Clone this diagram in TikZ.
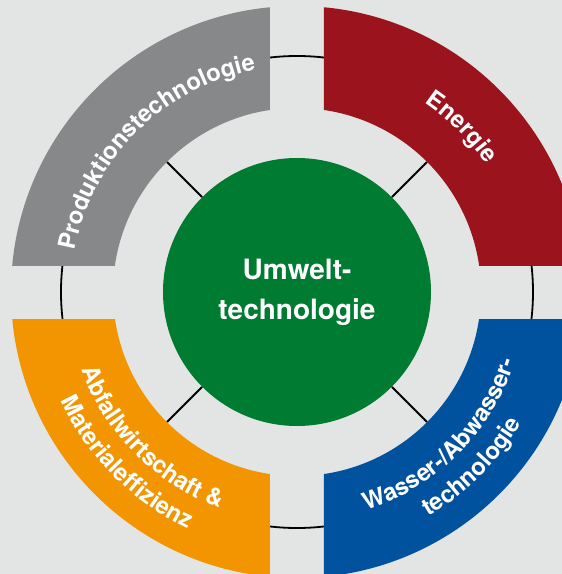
\documentclass[tikz,border=0pt]{standalone}
\usepackage{fontspec}
\setmainfont{TeX Gyre Heros}
\usetikzlibrary{decorations.text}
\definecolor{bgcol}{HTML}{E3E5E4}
\definecolor{segGray}{HTML}{87888A}
\definecolor{segRed}{HTML}{9B141D}
\definecolor{segOrange}{HTML}{F29500}
\definecolor{segBlue}{HTML}{00519E}
\definecolor{coreGreen}{HTML}{007B32}
\newcommand\mysegfont{\bfseries\fontsize{23.8}{28}\selectfont\color{white}}
\begin{document}
\begin{tikzpicture}[x=1pt,y=1pt,
  ringline/.style={line width=1.8pt, draw=black},
  segfill/.style={fill=#1, even odd rule},
  core/.style={circle, fill=coreGreen, minimum size=268pt, inner sep=0pt, text=white,
    align=center, font=\bfseries\fontsize{28}{40}\selectfont},
  arclabel/.style={decorate, decoration={text along path, text align=center, text={#1}}}]
\useasboundingbox (-297,-282) rectangle (265,292);
\fill[bgcol] (-297,-282) rectangle (265,292);
% ring
\draw[ringline] (0,0) circle[radius=236pt];
% centre
\node[core] (centre) at (0,0) {Umwelt-\\technologie};
% connector ends
\coordinate (ne) at (45:184pt);
\coordinate (nw) at (135:184pt);
\coordinate (sw) at (225:184pt);
\coordinate (se) at (315:184pt);
\draw[ringline] (centre.45) -- (ne);
\draw[ringline] (centre.135) -- (nw);
\draw[ringline] (centre.225) -- (sw);
\draw[ringline] (centre.315) -- (se);
% segments
\begin{scope}
\clip (-320,27) rectangle (-27,320);
\fill[segfill=segGray] (0,0) circle[radius=286pt] (0,0) circle[radius=184pt];
\end{scope}
\begin{scope}
\clip (27,27) rectangle (320,320);
\fill[segfill=segRed] (0,0) circle[radius=286pt] (0,0) circle[radius=184pt];
\end{scope}
\begin{scope}
\clip (-320,-27) rectangle (-27,-320);
\fill[segfill=segOrange] (0,0) circle[radius=286pt] (0,0) circle[radius=184pt];
\end{scope}
\begin{scope}
\clip (27,-27) rectangle (320,-320);
\fill[segfill=segBlue] (0,0) circle[radius=286pt] (0,0) circle[radius=184pt];
\end{scope}
% labels
\path[arclabel={|\mysegfont|Produktionstechnologie}] (180:226pt) arc[start angle=180, end angle=90, radius=226pt];
\path[arclabel={|\mysegfont|Energie}] (90:228pt) arc[start angle=90, end angle=0, radius=228pt];
\path[arclabel={|\mysegfont|Abfallwirtschaft {\&}}] (180:229pt) arc[start angle=180, end angle=270, radius=229pt];
\path[arclabel={|\mysegfont|Materialeffizienz}] (180:260pt) arc[start angle=180, end angle=270, radius=260pt];
\path[arclabel={|\mysegfont|Wasser-/Abwasser-}] (270:229pt) arc[start angle=270, end angle=360, radius=229pt];
\path[arclabel={|\mysegfont|technologie}] (270:260pt) arc[start angle=270, end angle=360, radius=260pt];
\end{tikzpicture}
\end{document}
